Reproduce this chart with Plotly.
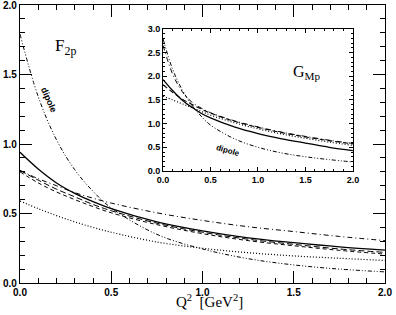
import plotly.graph_objects as go

q = [0.0, 0.1, 0.2, 0.3, 0.4, 0.5, 0.75, 1.0, 1.25, 1.5, 1.75, 2.0]

# Main panel: F2p
f2_solid = [0.94, 0.82, 0.72, 0.645, 0.585, 0.535, 0.44, 0.375, 0.325, 0.29, 0.26, 0.237]
f2_dash1 = [0.81, 0.74, 0.675, 0.62, 0.565, 0.52, 0.43, 0.365, 0.315, 0.278, 0.245, 0.22]
f2_dash2 = [0.80, 0.72, 0.655, 0.60, 0.55, 0.505, 0.42, 0.355, 0.305, 0.268, 0.235, 0.208]
f2_dashdot = [0.81, 0.75, 0.70, 0.65, 0.61, 0.575, 0.505, 0.45, 0.405, 0.37, 0.335, 0.305]
f2_dotted = [0.59, 0.535, 0.485, 0.44, 0.40, 0.365, 0.295, 0.25, 0.218, 0.195, 0.178, 0.162]
f2_dipole = [1.79, 1.34, 1.03, 0.815, 0.66, 0.54, 0.35, 0.245, 0.175, 0.13, 0.10, 0.08]

# Inset: GMp
gm_solid = [1.93, 1.70, 1.50, 1.35, 1.22, 1.12, 0.93, 0.79, 0.68, 0.59, 0.50, 0.43]
gm_dash = [1.82, 1.66, 1.52, 1.41, 1.31, 1.22, 1.05, 0.92, 0.81, 0.72, 0.64, 0.57]
gm_dotted = [1.58, 1.50, 1.42, 1.34, 1.26, 1.18, 1.02, 0.89, 0.78, 0.69, 0.61, 0.54]
gm_dashdot = [2.65, 2.05, 1.68, 1.46, 1.33, 1.23, 1.06, 0.93, 0.82, 0.73, 0.65, 0.58]
gm_dipole = [2.79, 2.15, 1.72, 1.40, 1.16, 0.97, 0.68, 0.50, 0.38, 0.30, 0.24, 0.19]

tick_vals = [0, 0.5, 1.0, 1.5, 2.0]
tick_text = ["0.0", "0.5", "1.0", "1.5", "2.0"]
inset_y_vals = [0, 0.5, 1.0, 1.5, 2.0, 2.5, 3.0]
inset_y_text = ["0.0", "0.5", "1.0", "1.5", "2.0", "2.5", "3.0"]

DDOT = "4px,2px,1px,2px,1px,2px"
DASHDOT = "5px,3px,1px,3px"

fig = go.Figure()

def add(x, y, dash, width, xa, ya):
    fig.add_trace(go.Scatter(x=x, y=y, mode="lines", xaxis=xa, yaxis=ya,
                             line=dict(color="black", width=width, dash=dash, shape="spline"),
                             showlegend=False, hoverinfo="skip"))

add(q, f2_solid, "solid", 1.3, "x", "y")
add(q, f2_dash1, "6px,3px", 1.0, "x", "y")
add(q, f2_dash2, "4px,3px", 1.0, "x", "y")
add(q, f2_dashdot, DASHDOT, 1.0, "x", "y")
add(q, f2_dotted, "1px,2px", 1.2, "x", "y")
add(q, f2_dipole, DDOT, 1.0, "x", "y")

add(q, gm_solid, "solid", 1.3, "x2", "y2")
add(q, gm_dash, "5px,3px", 1.1, "x2", "y2")
add(q, gm_dotted, "1px,2px", 1.2, "x2", "y2")
add(q, gm_dashdot, DASHDOT, 1.0, "x2", "y2")
add(q, gm_dipole, DDOT, 1.0, "x2", "y2")

tickfont = dict(family="Liberation Sans", size=10, color="black", weight="bold")
tickfont2 = dict(family="Liberation Sans", size=9, color="black", weight="bold")

common = dict(showgrid=False, zeroline=False, showline=True, linecolor="black",
              mirror="allticks", ticks="inside", tickcolor="black", automargin=False,
              ticklabeloverflow="allow")

fig.update_layout(
    width=396, height=315,
    margin=dict(l=20, r=11, t=5, b=32),
    paper_bgcolor="white", plot_bgcolor="white",
    xaxis=dict(domain=[0, 1], range=[0, 2], tickvals=tick_vals, ticktext=tick_text,
               ticklen=12, tickwidth=1.1, linewidth=1.3, tickfont=tickfont,
               minor=dict(dtick=0.1, tick0=0, ticklen=5, ticks="inside", tickcolor="black", tickwidth=1),
               **common),
    yaxis=dict(domain=[0, 1], range=[0, 2], tickvals=tick_vals, ticktext=tick_text,
               ticklen=12, tickwidth=1.1, linewidth=1.3, tickfont=tickfont,
               minor=dict(dtick=0.1, tick0=0, ticklen=5, ticks="inside", tickcolor="black", tickwidth=1),
               **common),
    xaxis2=dict(domain=[0.392, 0.912], range=[0, 2], anchor="y2",
                tickvals=tick_vals, ticktext=tick_text,
                ticklen=4, tickwidth=1, linewidth=1.1, tickfont=tickfont2,
                minor=dict(dtick=0.1, tick0=0, ticklen=2, ticks="inside", tickcolor="black", tickwidth=1),
                **common),
    yaxis2=dict(domain=[0.403, 0.914], range=[0, 3], anchor="x2",
                tickvals=inset_y_vals, ticktext=inset_y_text,
                ticklen=4, tickwidth=1, linewidth=1.1, tickfont=tickfont2,
                minor=dict(dtick=0.1, tick0=0, ticklen=2, ticks="inside", tickcolor="black", tickwidth=1),
                **common),
)

fig.add_annotation(xref="paper", yref="paper", x=0.52, y=-0.066, yanchor="middle",
                   text="Q<sup>2</sup>  [GeV<sup>2</sup>]", showarrow=False,
                   font=dict(family="Liberation Serif", size=15, color="black"))
fig.add_annotation(xref="x", yref="y", x=0.25, y=1.70, text="F<sub>2p</sub>", showarrow=False,
                   font=dict(family="Liberation Serif", size=17, color="black"))
fig.add_annotation(xref="x", yref="y", x=0.16, y=1.32, text="dipole", showarrow=False, textangle=66,
                   font=dict(family="Liberation Sans", size=9, color="black", weight="bold"))
fig.add_annotation(xref="x2", yref="y2", x=1.52, y=2.07, text="G<sub>Mp</sub>", showarrow=False,
                   font=dict(family="Liberation Serif", size=16, color="black"))
fig.add_annotation(xref="x2", yref="y2", x=0.68, y=0.44, text="dipole", showarrow=False, textangle=16,
                   font=dict(family="Liberation Sans", size=8, color="black", weight="bold"))

fig.write_html("out.html", config={"displayModeBar": False},
               post_script="document.body.style.margin='0';document.body.style.overflow='hidden';")
